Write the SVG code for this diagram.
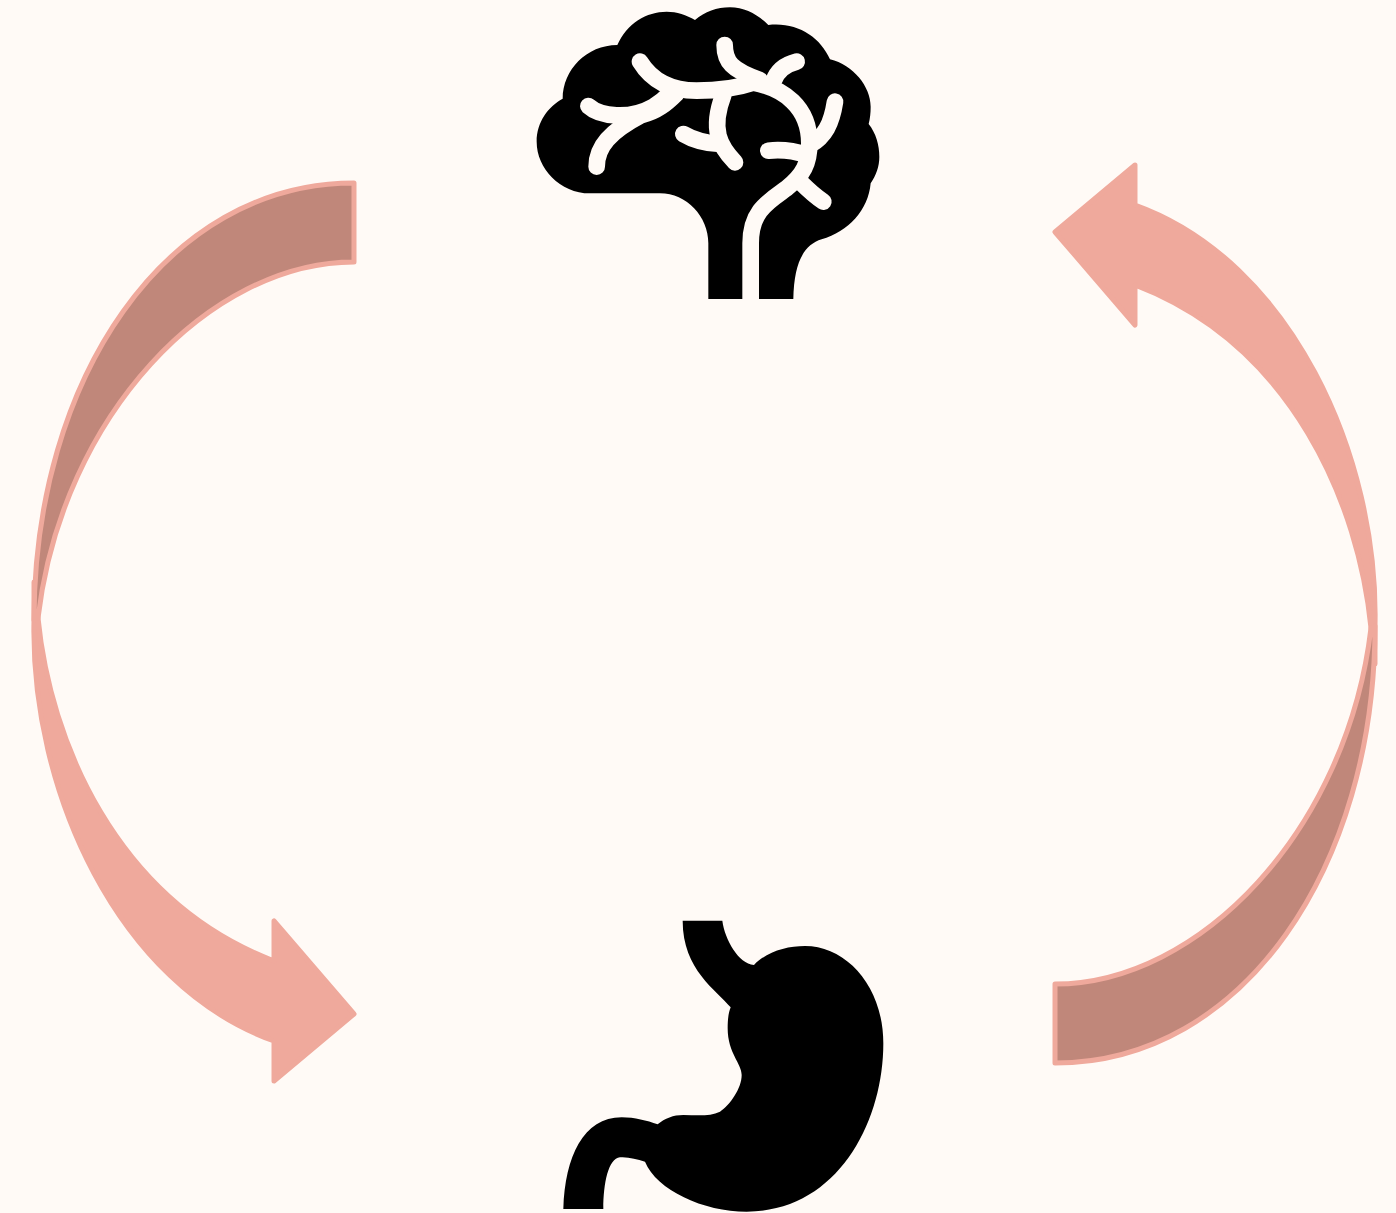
<svg xmlns="http://www.w3.org/2000/svg" xmlns:xlink="http://www.w3.org/1999/xlink" width="1396" height="1213" viewBox="0 0 1396 1213">
<style>
.tail{fill:#EFA99C;stroke:#EFA99C;stroke-width:5;stroke-linejoin:round}
.dark{fill:#C0877A;stroke:#EFA99C;stroke-width:5;stroke-linejoin:round}
.organ{fill:#000}
.vein{fill:none;stroke:#FFFAF6;stroke-width:50;stroke-linecap:round}
</style>
<defs>
<g id="arrow">
<path class="tail" d="M34,582 V620 C30,790 118,985 274,1041 V1081 L354,1014 L274,921 V961 C115,900 50,740 38,618 Z"/>
<path class="dark" d="M354,183 C165,183 34,380 34,620 L38,618 C62,415 210,262 354,262 Z"/>
</g>
</defs>
<rect width="1396" height="1213" fill="#FFFAF6"/>
<g id="connectors">
<use id="arrow-left" xlink:href="#arrow"/>
<use id="arrow-right" xlink:href="#arrow" transform="rotate(180 704.5 623)"/>
</g>
<g id="brain" transform="translate(520 0) scale(.33333)">
<path class="organ" d="M565,897 V730 C565,650 500,580 420,580 H210 C120,580 50,505 50,425 C50,365 85,320 128,296 C128,210 200,135 292,135 C320,70 380,35 440,35 C470,35 500,45 525,60 C555,35 590,22 630,22 C675,22 715,45 745,75 C830,65 900,110 930,178 C1000,195 1052,260 1052,320 C1052,340 1050,355 1046,372 C1068,400 1078,435 1078,470 C1078,500 1068,525 1052,550 C1045,630 985,695 905,718 C850,735 822,790 820,897 Z"/>
<path class="vein" d="M360,185 C400,250 460,272 530,272 C590,272 650,265 700,248 C790,265 868,320 868,430 C868,490 850,525 800,565 C745,605 692,632 692,730 V897"/>
<path class="vein" d="M614,135 C614,185 635,210 720,240"/>
<path class="vein" d="M830,185 C790,195 770,215 760,245"/>
<path class="vein" d="M945,305 C935,370 915,410 870,435"/>
<path class="vein" d="M745,452 C780,448 815,450 860,465"/>
<path class="vein" d="M910,605 C880,585 860,565 840,545"/>
<path class="vein" d="M205,318 C240,350 330,360 400,320 C420,308 435,295 450,280"/>
<path class="vein" d="M230,500 C230,440 270,395 365,345 C410,335 440,310 470,280"/>
<path class="vein" d="M645,487 C600,440 570,390 610,285"/>
<path class="vein" d="M490,402 C520,420 560,430 600,432"/>
</g>
<g id="stomach" transform="translate(550 910) scale(.33333)">
<path class="organ" d="M398,32 H517 C525,90 565,160 612,165 C650,125 710,108 765,108 C890,108 1000,230 1000,400 C1000,640 860,905 590,905 C460,905 320,840 285,755 C260,748 235,740 210,742 C175,745 160,820 160,897 H40 C45,740 100,622 215,622 C255,622 290,632 323,643 C345,625 370,615 400,615 C440,615 480,620 510,605 C540,585 575,535 575,495 C575,460 533,430 533,355 C533,330 535,310 542,292 C500,240 398,180 398,32 Z"/>
</g>
</svg>
